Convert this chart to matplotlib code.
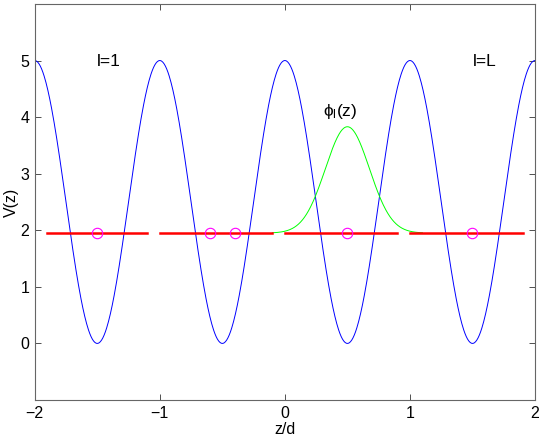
import numpy as np
import matplotlib
matplotlib.use("Agg")
import matplotlib.pyplot as plt

plt.rcParams['font.family'] = ['Liberation Sans', 'DejaVu Sans']

# Potential parameters: V(z) = V0/2 * (1 + cos(2*pi*z/d))
V0 = 5.0
d = 1.0
z_range = [-2.0, 2.0]

# Red energy-level segments (start, end) at level E
E = 1.95
seg_starts = [-1.9, -1.0, 0.0, 1.0]
seg_ends = [-1.1, -0.1, 0.9, 1.9]

# Magenta circles
circle_z = [-1.5, -0.6, -0.4, 0.5, 1.5]

# Green Wannier-like function parameters
phi_center = 0.5
phi_height = 1.88
phi_sigma = 0.176
phi_range = [-0.1, 1.1]

# Labels
labels = ["l=1", "l=L", r"$\mathregular{\phi_l(z)}$"]
label_x = [-1.41, 1.6, 0.44]
label_y = [4.98, 4.98, 4.1]

fig = plt.figure(figsize=(5.45, 4.41), dpi=100)
ax = fig.add_axes([0.0637, 0.093, 0.918, 0.898])

z = np.linspace(z_range[0], z_range[1], 801)
V = V0 / 2 * (1 + np.cos(2 * np.pi * z / d))
ax.plot(z, V, color='#0000ff', lw=0.7)

zg = np.linspace(phi_range[0], phi_range[1], 300)
phi = E + phi_height * np.exp(-0.5 * ((zg - phi_center) / phi_sigma) ** 2)
ax.plot(zg, phi, color='#00ff00', lw=0.7)

for s, e in zip(seg_starts, seg_ends):
    ax.plot([s, e], [E, E], color='#ff0000', lw=1.8)

ax.plot(circle_z, [E] * len(circle_z), 'o', mfc='none', mec='#ff00ff',
        ms=7.5, mew=0.8)

for t, x, y in zip(labels, label_x, label_y):
    ax.text(x, y, t, ha='center', va='center', fontsize=12.5)

ax.set_xlim(-2, 2)
ax.set_ylim(-1, 6)
ax.set_xticks([-2, -1, 0, 1, 2])
ax.set_yticks([0, 1, 2, 3, 4, 5])
ax.set_xticklabels(['\u22122', '\u22121', '0', '1', '2'])
ax.set_xlabel('z/d', fontsize=11.5, labelpad=1)
ax.set_ylabel('V(z)', fontsize=11.5, labelpad=1)
ax.tick_params(direction='in', top=True, right=True, labelsize=11.5,
               length=4, width=0.6, colors='#333333', labelcolor='black',
               pad=4)
for sp in ax.spines.values():
    sp.set_color('#666666')
    sp.set_linewidth(0.8)

fig.savefig('out.png', dpi=100)
